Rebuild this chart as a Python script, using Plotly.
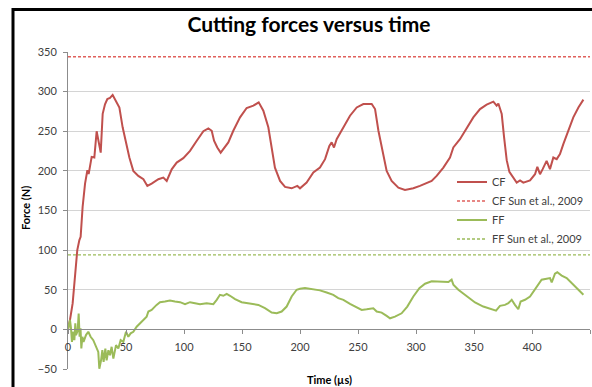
import plotly.graph_objects as go

# ---------------- data ----------------
cf_time = [0, 1.7, 4, 6, 8, 9.8, 10.9, 12.6, 14.7, 16.7, 17.8, 20.4, 22.7, 24.7, 26.2, 28.2,
           29.9, 31.9, 33.9, 36.2, 38.5, 41.4, 44.3, 47.1, 50, 52.9, 56.3, 60.6, 65, 68.4,
           72.1, 77.9, 82.2, 85.1, 89.4, 93.7, 99.4, 105.2, 111, 116.7, 121, 123.9, 125.9,
           128.7, 131.6, 133.9, 138.2, 142.5, 148.3, 154, 159.8, 164.4, 168.4, 172.7, 175.6,
           178.4, 182.8, 187.1, 192.8, 197.7, 200, 205.7, 211.5, 214.4, 217.2, 221.6, 225.3,
           227.3, 229.3, 231.6, 237.4, 243.1, 248.9, 254.6, 261.8, 264.7, 267.6, 271.3, 274.7,
           279, 284.8, 290.5, 297.7, 303.4, 309.2, 313.5, 317.8, 323.6, 329.3, 332.2, 337.9,
           343.7, 349.4, 355.2, 360.9, 366.7, 369.5, 371, 373.9, 375.9, 378.2, 380.5, 383.3,
           386.8, 389.7, 392.5, 398.3, 402.6, 404.6, 406.9, 409.2, 412.6, 415.5, 418.4, 421.3,
           424.1, 427, 431.3, 435.6, 440, 444.3]
cf_force = [0, 11.8, 32.8, 70.6, 100, 112.6, 116.8, 154.6, 184, 200.8, 196, 217.7, 216.9, 250,
            236, 223, 272, 284, 290.7, 292, 295.8, 288.6, 280, 255, 233.7, 216.9, 200, 193.7,
            189.4, 181, 184, 189.4, 191.5, 187.3, 202, 210.5, 216, 225.3, 238, 250, 253.6,
            250.6, 238, 229.5, 223, 227.4, 235.9, 250.6, 267.5, 279.3, 282.3, 286.5, 276, 255,
            229.5, 204, 187.3, 179.7, 178, 181, 178, 185.2, 197.9, 200.8, 204.2, 214.8, 231.6,
            236, 229.5, 240, 254.8, 269.6, 280, 284.4, 284.4, 278, 250.6, 223, 200, 187.3,
            178.9, 176, 178, 181, 185.2, 187.3, 193.7, 204.2, 216.9, 229.5, 240, 254.8, 267.5,
            278, 283.5, 287.3, 282.3, 285, 271.7, 242.8, 213.5, 198.7, 192.5, 185.2, 188,
            185.2, 188, 195.8, 205, 195.8, 202.2, 212.7, 202.2, 216.9, 214.8, 221.1, 233.7,
            250.6, 267.5, 280, 289.9]

ff_time = [0, 1.7, 2.6, 3.4, 4.6, 5.5, 6.3, 6.9, 8.3, 9.2, 10, 10.8, 11.5, 12.4, 13.4, 15.5,
           17.5, 19.5, 21.8, 24.1, 26.1, 27, 28.5, 29.6, 30.7, 32.2, 33.3, 34.8, 36.2, 37.6,
           39.1, 41.4, 43.4, 45.4, 47.7, 50, 52, 54, 56.3, 59.2, 62, 64.9, 67.8, 69.3, 72.1,
           76.4, 79.3, 83.6, 87.9, 92.2, 96.6, 100.9, 105.2, 109.5, 113.8, 119.5, 125.3, 128.2,
           131, 133.9, 136.8, 139.7, 144, 149.7, 156.9, 164.1, 169.8, 175.6, 179.9, 184.2,
           188.5, 192.8, 197.1, 200, 204.3, 210.1, 217.2, 223, 228.7, 233, 237.4, 243.1, 248.9,
           253.2, 257.5, 263.2, 266.1, 270.4, 274.7, 277.6, 281.9, 287.6, 292.5, 297.7, 302.9,
           307.8, 313.5, 320.7, 327.9, 330.7, 332.2, 336.5, 343.7, 350.9, 358, 363.8, 369,
           372.4, 376.7, 379.6, 382.5, 385.3, 388.2, 390.2, 394, 398.3, 401.1, 405.5, 408.3,
           412.6, 415.5, 417, 419.8, 421.8, 425.6, 429.9, 432.8, 437.1, 441.4, 444.3]
ff_force = [0, 11.9, 1.3, -15.7, -3, -13.6, 7.6, -7.2, -2, 20, -9.3, 1.3, -24, -9.3, -15.7,
            -7.2, -3, -9.3, -13.6, -22, -28.4, -49.6, -39, -26.3, -41.1, -24.2, -39, -26.3,
            -32.6, -22, -36.9, -19.9, -24.2, -13.6, -15.7, -3, -9.3, -5, -3, 3.4, 7.6, 11.9,
            16.1, 22.5, 24.6, 30.9, 34.3, 35.2, 36.4, 35.2, 34.3, 31.8, 34.3, 33, 31.8, 33,
            31.8, 37.3, 43.6, 42.4, 44.9, 42.4, 38.1, 34.3, 33, 30.9, 26.7, 21.2, 20.3, 22.5,
            28.8, 41.5, 50, 51.3, 52.1, 50.8, 49.2, 46.6, 43.6, 39.4, 37.3, 32.2, 27.5, 24.6,
            25.4, 26.7, 22.5, 21.2, 17, 14, 16.1, 20.3, 28.8, 41.5, 52.1, 57.6, 60.6, 60.6,
            59.7, 62.7, 56.4, 50, 41.5, 33.9, 28.8, 25.8, 23.7, 29.7, 30.9, 33, 37.3, 30.9,
            25.4, 35.2, 37.3, 41.5, 47.9, 56.4, 62.7, 64, 64.8, 59.3, 70.3, 72, 67.8, 64.8,
            60.6, 55.1, 47.9, 43.6]

cf_sun = 344   # CF Sun et al., 2009
ff_sun = 94    # FF Sun et al., 2009

x_range = [0, 450]
y_range = [-50, 350]
x_ticks = [0, 50, 100, 150, 200, 250, 300, 350, 400, 450]
x_tick_text = ["0", "50", "100", "150", "200", "250", "300", "350", "400", ""]
y_ticks = [-50, 0, 50, 100, 150, 200, 250, 300, 350]

series_names = ["CF", "CF Sun et al., 2009", "FF", "FF Sun et al., 2009"]

# ---------------- figure ----------------
RED = "#c0504d"
GREEN = "#9bbb59"
FONT = "Lato, 'Open Sans', sans-serif"

fig = go.Figure()
fig.add_trace(go.Scatter(x=cf_time, y=cf_force, mode="lines", name=series_names[0],
                         line=dict(color=RED, width=2)))
fig.add_trace(go.Scatter(x=x_range, y=[cf_sun, cf_sun], mode="lines", name=series_names[1],
                         line=dict(color="#e0605c", width=1.3, dash="3px,2px")))
fig.add_trace(go.Scatter(x=ff_time, y=ff_force, mode="lines", name=series_names[2],
                         line=dict(color=GREEN, width=2)))
fig.add_trace(go.Scatter(x=x_range, y=[ff_sun, ff_sun], mode="lines", name=series_names[3],
                         line=dict(color=GREEN, width=1.3, dash="3px,2px")))

# plot area in pixels: left 68, right 590, top 52, bottom 369
L, R, T, B = 68, 590, 52, 369
W, H = 592, 387
pw, ph = R - L, B - T


def px_x(p):
    return (p - L) / pw


def px_y(p):
    return (B - p) / ph


zero_pos = (0 - y_range[0]) / (y_range[1] - y_range[0])

fig.update_layout(
    width=W, height=H,
    margin=dict(l=L, r=W - R, t=T, b=H - B),
    paper_bgcolor="white", plot_bgcolor="white",
    font=dict(family=FONT, size=11, color="#404040"),
    title=dict(text="<b>Cutting forces versus time</b>", x=px_x(309), xref="paper",
               xanchor="center", y=1 - 25 / H, yanchor="middle",
               font=dict(family=FONT, size=21, color="#000000")),
    showlegend=True,
    legend=dict(x=px_x(452), y=px_y(210.5), xanchor="left", yanchor="middle",
                bgcolor="rgba(255,255,255,0)", borderwidth=0, itemwidth=30,
                font=dict(family=FONT, size=11, color="#404040"),
                tracegroupgap=0),
    xaxis=dict(range=x_range, tickvals=x_ticks, ticktext=x_tick_text,
               showgrid=False, zeroline=False, showline=True, linecolor="#8c8c8c",
               linewidth=1, ticks="outside", ticklen=4, tickcolor="#8c8c8c",
               anchor="free", position=zero_pos, ticklabelstandoff=3,
               tickfont=dict(family=FONT, size=11, color="#404040")),
    yaxis=dict(range=y_range, tickvals=y_ticks, showgrid=True, gridcolor="#d4d4d4",
               gridwidth=1, zeroline=False, showline=True, linecolor="#8c8c8c",
               linewidth=1, ticks="outside", ticklen=4, tickcolor="#8c8c8c",
               ticklabelstandoff=4,
               tickfont=dict(family=FONT, size=11, color="#404040")),
    annotations=[
        dict(text="<b>Time (µs)</b>", x=px_x(329), y=px_y(379), xref="paper", yref="paper",
             xanchor="center", yanchor="middle", showarrow=False,
             font=dict(family=FONT, size=11, color="#000000")),
        dict(text="<b>Force (N)</b>", x=px_x(25), y=px_y(208), xref="paper", yref="paper",
             xanchor="center", yanchor="middle", showarrow=False, textangle=-90,
             font=dict(family=FONT, size=11, color="#000000")),
    ],
    shapes=[
        dict(type="line", xref="paper", yref="paper", x0=px_x(12), x1=px_x(592),
             y0=px_y(9.5), y1=px_y(9.5), line=dict(color="black", width=3)),
        dict(type="line", xref="paper", yref="paper", x0=px_x(13), x1=px_x(13),
             y0=px_y(8), y1=px_y(387), line=dict(color="black", width=3)),
    ],
)

fig.write_html("out.html")
